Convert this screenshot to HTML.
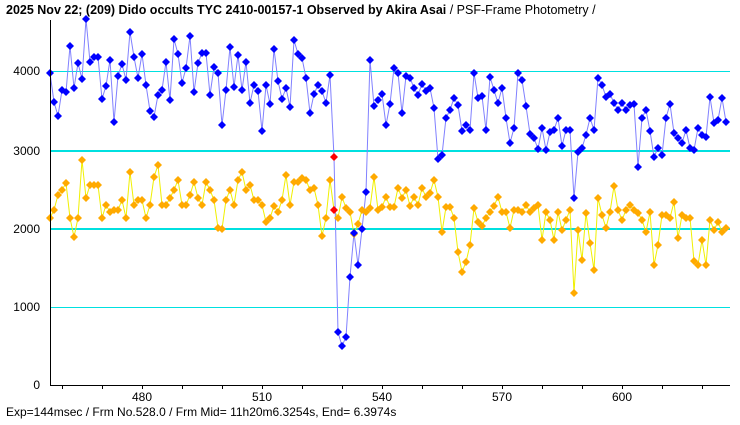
<!DOCTYPE html><html><head><meta charset="utf-8"><style>
body{margin:0;background:#fff;width:740px;height:425px;overflow:hidden}
svg{display:block;font-family:"Liberation Sans","Noto Sans CJK JP",sans-serif}
</style></head><body>
<svg id="s" width="740" height="425" xmlns="http://www.w3.org/2000/svg">
<rect width="740" height="425" fill="#fff"/>
<text x="6" y="14" font-size="12.5" font-weight="bold" fill="#000">2025 Nov 22; (209) Dido occults TYC 2410-00157-1 Observed by Akira Asai <tspan font-weight="normal">/ PSF-Frame Photometry /</tspan></text>
<g stroke="#00e0e0">
<line x1="50" x2="730" y1="307.5" y2="307.5" stroke-width="1"/>
<line x1="50" x2="730" y1="229" y2="229" stroke-width="2"/>
<line x1="50" x2="730" y1="151" y2="151" stroke-width="2"/>
<line x1="50" x2="730" y1="71.5" y2="71.5" stroke-width="1"/>
</g>
<g id="data"></g>
<line x1="50.5" y1="20" x2="50.5" y2="385" stroke="#000"/>
<line x1="50" y1="385.5" x2="730" y2="385.5" stroke="#000"/>
<g font-size="12" fill="#000" text-anchor="end">
<text x="40" y="389">0</text><text x="40" y="311">1000</text><text x="40" y="233">2000</text><text x="40" y="155">3000</text><text x="40" y="75">4000</text>
</g>
<g id="ticks" stroke="#000"></g>
<g font-size="12" fill="#000" text-anchor="middle">
<text x="142" y="401">480</text><text x="262" y="401">510</text><text x="382" y="401">540</text><text x="502" y="401">570</text><text x="622" y="401">600</text>
</g>
<text x="6" y="416" font-size="12" fill="#000">Exp=144msec / Frm No.528.0 / Frm Mid= 11h20m6.3254s,  End= 6.3974s</text>
</svg>
<script>
var B=[73,102,116,90,92,46,88,63,79,19,62,57,57,99,86,60,122,76,64,80,32,57,78,54,85,111,117,95,90,62,100,39,54,83,68,36,92,63,53,53,95,67,73,125,90,47,87,55,90,62,103,85,91,131,85,104,49,81,99,88,107,40,54,58,78,113,94,85,91,103,75,157,332,346,337,277,233,265,229,192,60,106,100,94,125,104,68,73,113,76,78,88,95,84,91,88,108,159,155,118,110,98,105,131,125,130,73,98,96,130,77,90,103,88,118,143,128,73,80,106,134,138,149,128,150,132,130,118,146,130,130,198,152,148,135,118,130,78,85,97,94,103,110,103,110,105,104,167,118,110,131,157,148,155,118,104,133,138,143,130,148,150,128,135,137,97,123,120,98,122];
var O=[218,210,195,190,183,218,237,218,160,198,185,185,185,218,205,212,210,210,200,218,172,205,200,200,218,205,177,165,205,205,198,190,180,205,205,195,182,198,205,182,190,200,228,229,200,190,205,180,172,190,185,200,200,205,222,218,206,212,200,175,205,182,182,178,180,190,188,205,236,218,180,210,218,197,208,212,234,224,210,212,208,177,210,207,197,207,207,188,198,190,206,197,205,188,197,193,180,197,232,207,207,218,252,272,262,245,208,222,226,218,212,206,197,212,212,228,210,210,212,205,212,208,205,240,212,220,240,212,230,220,210,293,230,260,213,243,270,198,215,228,212,186,210,220,210,205,210,213,220,232,212,265,245,215,215,218,202,238,215,218,218,261,265,240,265,220,230,222,232,228];
var g=document.getElementById('data'),ns='http://www.w3.org/2000/svg',h='';
function xs(i){return 50+i*4}
function pl(a,c){var p=a.map(function(y,i){return xs(i)+','+y}).join(' ');return '<polyline points="'+p+'" fill="none" stroke="'+c+'" stroke-width="1"/>'}
function dm(x,y,c){return '<polygon points="'+x+','+(y-4)+' '+(x+4)+','+y+' '+x+','+(y+4)+' '+(x-4)+','+y+'" fill="'+c+'"/>'}
h+=pl(O,'#f0f000')+pl(B,'#8080ff');
O.forEach(function(y,i){h+=dm(xs(i),y,i==71?'#ff0000':'#ffaa00')});
B.forEach(function(y,i){h+=dm(xs(i),y,i==71?'#ff0000':'#0000ff')});
g.innerHTML=h;
var t='';for(var f=470;f<=630;f+=10){var x=50+(f-467)*4;t+='<line x1="'+(x+.5)+'" x2="'+(x+.5)+'" y1="385" y2="389"/>'}
document.getElementById('ticks').innerHTML=t;
</script>
</body></html>
